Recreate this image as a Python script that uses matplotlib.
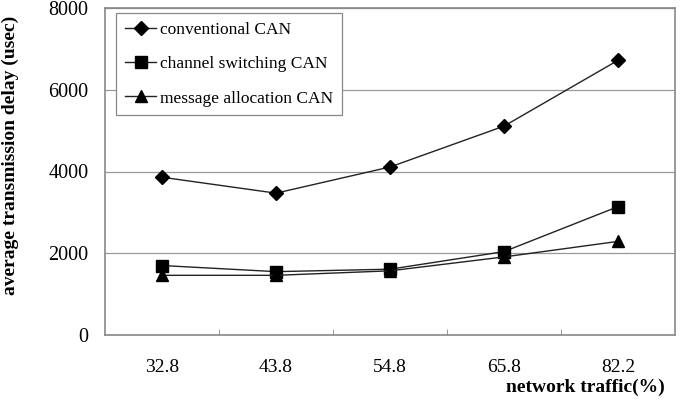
import matplotlib.pyplot as plt
import numpy as np

# data
traffic = ["32.8", "43.8", "54.8", "65.8", "82.2"]
conventional = [3860, 3470, 4110, 5110, 6720]
channel_switching = [1700, 1550, 1610, 2040, 3140]
message_allocation = [1460, 1460, 1570, 1910, 2290]

plt.rcParams['font.family'] = ['Liberation Serif', 'DejaVu Serif']

fig = plt.figure(figsize=(6.82, 4.08), dpi=100)
ax = fig.add_axes([105 / 682, 1 - 335 / 408, 570 / 682, 327 / 408])

x = np.arange(len(traffic))
line_kw = dict(color='#222222', lw=1.0, markerfacecolor='black', markeredgecolor='black')
ax.plot(x, conventional, marker='D', ms=7, label='conventional CAN', **line_kw)
ax.plot(x, channel_switching, marker='s', ms=8, label='channel switching CAN', **line_kw)
ax.plot(x, message_allocation, marker='^', ms=9, label='message allocation CAN', **line_kw)

ax.set_xlim(-0.5, len(traffic) - 0.5)
ax.set_ylim(0, 8000)
ax.set_yticks([0, 2000, 4000, 6000, 8000])
ax.set_xticks(x)
ax.set_xticklabels(traffic)
ax.set_xticks(np.arange(0.5, len(traffic) - 1, 1), minor=True)
ax.tick_params(axis='x', which='major', length=0, pad=17, labelsize=14)
ax.tick_params(axis='x', which='minor', direction='in', length=4, color='#888888')
ax.tick_params(axis='y', length=0, pad=12, labelsize=14.5)

ax.grid(axis='y', color='#999999', lw=0.9)
ax.set_axisbelow(True)
for s in ax.spines.values():
    s.set_color('#888888')
    s.set_linewidth(1.2)

ax.set_ylabel('average transmission delay (usec)', fontsize=14, fontweight='bold')
ax.yaxis.set_label_coords(-0.151, 0.55)
fig.text(0.975, 0.03, 'network traffic(%)', fontsize=14, fontweight='bold', ha='right', va='bottom')

leg = ax.legend(loc='upper left', bbox_to_anchor=(0.02, 0.985), fontsize=12.5,
                frameon=True, fancybox=False, edgecolor='#888888', framealpha=1,
                handlelength=1.8, handletextpad=0.2, labelspacing=1.05,
                borderpad=0.5, borderaxespad=0)
leg.get_frame().set_linewidth(0.9)

fig.savefig('out.png', dpi=100)
